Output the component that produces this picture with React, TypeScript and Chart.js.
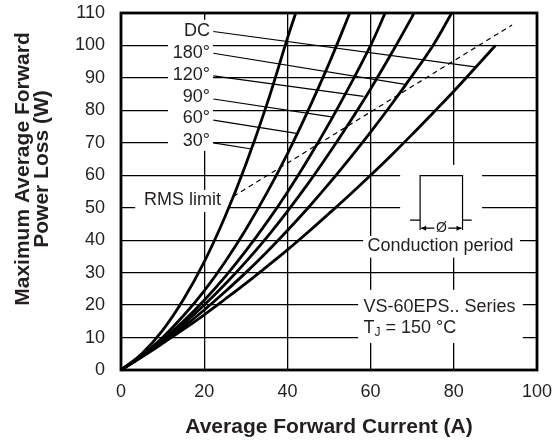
import React, { useEffect, useRef } from "react";
import { Chart, registerables } from "chart.js";

Chart.register(...registerables);

// ---- axes ----
const xTickStep = 20;
const xMin = 0;
const xMax = 100;
const yTickStep = 10;
const yMin = 0;
const yMax = 110;

// ---- curves (Average forward current A -> max average power loss W) ----
const current30 = [0, 5, 10, 15, 20, 25, 30, 35, 40, 42];
const loss30 = [0, 5.0, 12.2, 21.7, 33.3, 47.2, 63.3, 81.6, 102.2, 110];

const current60 = [0, 5, 10, 15, 20, 25, 30, 35, 40, 45, 50, 55];
const loss60 = [0, 4.4, 10.0, 16.7, 24.4, 33.3, 43.3, 54.4, 66.6, 80.0, 94.4, 110];

const current90 = [0, 5, 10, 15, 20, 25, 30, 35, 40, 45, 50, 55, 60, 63.5];
const loss90 = [0, 4.3, 9.3, 15.0, 21.5, 28.7, 36.7, 45.4, 54.8, 65.0, 75.9, 87.6, 100.0, 110];

const current120 = [0, 5, 10, 15, 20, 25, 30, 35, 40, 45, 50, 55, 60, 65, 70, 70.4];
const loss120 = [0, 4.2, 8.9, 14.2, 20.0, 26.4, 33.3, 40.8, 48.9, 57.5, 66.7, 76.4, 86.6, 97.5, 108.9, 110];

const current180 = [0, 5, 10, 15, 20, 25, 30, 35, 40, 45, 50, 55, 60, 65, 70, 75, 79.5];
const loss180 = [0, 4.1, 8.5, 13.3, 18.5, 24.1, 30.0, 36.3, 43.0, 50.0, 57.4, 65.2, 73.3, 81.8, 90.7, 100.0, 110];

const currentDC = [0, 5, 10, 15, 20, 25, 30, 35, 40, 45, 50, 55, 60, 65, 70, 75, 80, 85, 90];
const lossDC = [0, 4.0, 8.2, 12.5, 17.0, 21.8, 26.7, 31.8, 37.0, 42.5, 48.2, 54.0, 60.0, 66.2, 72.6, 79.2, 85.9, 92.9, 100.0];

// RMS limit (dashed)
const rmsCurrent = [27, 94];
const rmsLoss = [53.5, 106.3];

// curve labels and leader lines
const curveLabels = ["DC", "180°", "120°", "90°", "60°", "30°"];
const labelLoss = [104.3, 97.8, 90.9, 84.2, 77.5, 70.7];
const leaderFromCurrent = [22.2, 22.2, 22.2, 22.2, 22.2, 22.2];
const leaderFromLoss = [104.3, 97.6, 90.6, 83.5, 77.0, 70.0];
const leaderToCurrent = [85.1, 68.3, 58.3, 50.6, 42.2, 31.4];
const leaderToLoss = [93.4, 88.0, 84.3, 78.0, 72.9, 68.1];

// texts
const xTitle = "Average Forward Current (A)";
const yTitleLines = ["Maximum Average Forward", "Power Loss (W)"];
const rmsText = "RMS limit";
const conductionText = "Conduction period";
const seriesText = "VS-60EPS.. Series";
const tjMain = "T";
const tjSub = "J";
const tjRest = " = 150 °C";

const FONT = '"Liberation Sans", Arial, Helvetica, sans-serif';
const TEXT_COLOR = "#231f20";

// white label backgrounds (data units: x0, x1, yTop, yBottom)
const whiteBoxes = [
  [11.3, 22.1, 107.9, 67.5],
  [3.4, 25.7, 55.5, 48.7],
  [67.1, 86.8, 63.2, 41.3],
  [58.2, 95.9, 41.3, 34.6],
  [57.0, 96.6, 24.7, 8.3],
];

function pts(xs: number[], ys: number[]) {
  return xs.map((x, i) => ({ x, y: ys[i] }));
}

const annotPlugin = {
  id: "annot",
  beforeDatasetsDraw(chart: any) {
    const { ctx, scales } = chart;
    const xs = scales.x;
    const ys = scales.y;
    ctx.save();
    ctx.fillStyle = "#ffffff";
    for (const b of whiteBoxes) {
      const x0 = xs.getPixelForValue(b[0]);
      const x1 = xs.getPixelForValue(b[1]);
      const y0 = ys.getPixelForValue(b[2]);
      const y1 = ys.getPixelForValue(b[3]);
      ctx.fillRect(x0, y0, x1 - x0, y1 - y0);
    }
    ctx.restore();
  },
  afterDatasetsDraw(chart: any) {
    const { ctx, scales, chartArea } = chart;
    const xs = scales.x;
    const ys = scales.y;
    const px = (v: number) => xs.getPixelForValue(v);
    const py = (v: number) => ys.getPixelForValue(v);
    ctx.save();

    // frame
    ctx.strokeStyle = "#000";
    ctx.lineWidth = 2.8;
    ctx.strokeRect(chartArea.left, chartArea.top, chartArea.right - chartArea.left, chartArea.bottom - chartArea.top);

    ctx.fillStyle = TEXT_COLOR;
    ctx.font = `18px ${FONT}`;
    ctx.textBaseline = "middle";

    // curve labels
    ctx.textAlign = "right";
    curveLabels.forEach((t, i) => {
      ctx.fillText(t, px(21.4), py(labelLoss[i]));
    });

    // RMS limit
    ctx.textAlign = "center";
    ctx.fillText(rmsText, px(14.8), py(52.3));

    // conduction period
    ctx.fillText(conductionText, px(76.8), py(38.2));

    // series text
    ctx.textAlign = "left";
    ctx.fillText(seriesText, px(58.3), py(19.5));
    let tx = px(58.3);
    const ty = py(12.9);
    ctx.fillText(tjMain, tx, ty);
    tx += ctx.measureText(tjMain).width;
    ctx.font = `12px ${FONT}`;
    ctx.fillText(tjSub, tx, ty + 5);
    tx += ctx.measureText(tjSub).width;
    ctx.font = `18px ${FONT}`;
    ctx.fillText(tjRest, tx, ty);

    // conduction icon
    ctx.strokeStyle = "#000";
    ctx.lineWidth = 1.2;
    const L = px(71.9), R = px(82.1), T = py(59.9), B = py(46.2), V = py(43.1);
    ctx.beginPath();
    ctx.moveTo(px(69.5), B); ctx.lineTo(L, B);
    ctx.moveTo(L, V); ctx.lineTo(L, T); ctx.lineTo(R, T); ctx.lineTo(R, V);
    ctx.moveTo(R, B); ctx.lineTo(px(84.3), B);
    ctx.stroke();
    const ay = py(43.7);
    const cx = (L + R) / 2;
    ctx.beginPath();
    ctx.moveTo(L + 1, ay); ctx.lineTo(cx - 7, ay);
    ctx.moveTo(cx + 7, ay); ctx.lineTo(R - 1, ay);
    ctx.stroke();
    ctx.beginPath();
    ctx.moveTo(L + 1, ay); ctx.lineTo(L + 6, ay - 2.5); ctx.lineTo(L + 6, ay + 2.5); ctx.closePath();
    ctx.moveTo(R - 1, ay); ctx.lineTo(R - 6, ay - 2.5); ctx.lineTo(R - 6, ay + 2.5); ctx.closePath();
    ctx.fillStyle = "#000";
    ctx.fill();
    ctx.fillStyle = TEXT_COLOR;
    ctx.font = `14px ${FONT}`;
    ctx.textAlign = "center";
    ctx.fillText("Ø", cx, ay);

    // axis titles
    ctx.font = `bold 21px ${FONT}`;
    ctx.textAlign = "center";
    ctx.fillText(xTitle, (chartArea.left + chartArea.right) / 2, 427.5);
    ctx.translate(0, 169);
    ctx.rotate(-Math.PI / 2);
    ctx.fillText(yTitleLines[0], 0, 23.5);
    ctx.fillText(yTitleLines[1], 0, 42);
    ctx.restore();
  },
};

export default function App() {
  const ref = useRef<HTMLCanvasElement>(null);
  useEffect(() => {
    const curve = (xs: number[], ys: number[]) => ({
      data: pts(xs, ys),
      borderColor: "#000",
      borderWidth: 2.8,
      pointRadius: 0,
      tension: 0.4,
      fill: false,
    });
    const leaders = curveLabels.map((_, i) => ({
      data: [
        { x: leaderFromCurrent[i], y: leaderFromLoss[i] },
        { x: leaderToCurrent[i], y: leaderToLoss[i] },
      ],
      borderColor: "#000",
      borderWidth: 1.2,
      pointRadius: 0,
      tension: 0,
      fill: false,
    }));
    const chart = new Chart(ref.current!, {
      type: "line",
      data: {
        datasets: [
          curve(current30, loss30),
          curve(current60, loss60),
          curve(current90, loss90),
          curve(current120, loss120),
          curve(current180, loss180),
          curve(currentDC, lossDC),
          {
            data: pts(rmsCurrent, rmsLoss),
            borderColor: "#000",
            borderWidth: 1.2,
            borderDash: [5, 4],
            pointRadius: 0,
            tension: 0,
            fill: false,
          },
          ...leaders,
        ] as any,
      },
      options: {
        responsive: false,
        devicePixelRatio: 1,
        animation: false,
        layout: { padding: { top: 13, right: 20, left: 0, bottom: 0 } },
        plugins: { legend: { display: false }, tooltip: { enabled: false } },
        scales: {
          x: {
            type: "linear",
            min: xMin,
            max: xMax,
            afterFit: (s: any) => { s.height = 75; s.paddingLeft = 0; s.paddingRight = 0; },
            ticks: { stepSize: xTickStep, padding: 11, color: TEXT_COLOR, font: { family: FONT, size: 18 } },
            grid: { color: "#000", lineWidth: 1.3, drawTicks: false },
            border: { display: false },
          },
          y: {
            type: "linear",
            min: yMin,
            max: yMax,
            afterFit: (s: any) => { s.width = 121; s.paddingTop = 0; s.paddingBottom = 0; },
            ticks: { stepSize: yTickStep, padding: 16, color: TEXT_COLOR, font: { family: FONT, size: 18 } },
            grid: { color: "#000", lineWidth: 1.3, drawTicks: false },
            border: { display: false },
          },
        },
      } as any,
      plugins: [annotPlugin],
    });
    return () => chart.destroy();
  }, []);
  return (
    <div style={{ position: "absolute", left: 0, top: 0, width: 557, height: 445, background: "#fff" }}>
      <canvas ref={ref} width={557} height={445} style={{ display: "block" }} />
    </div>
  );
}
